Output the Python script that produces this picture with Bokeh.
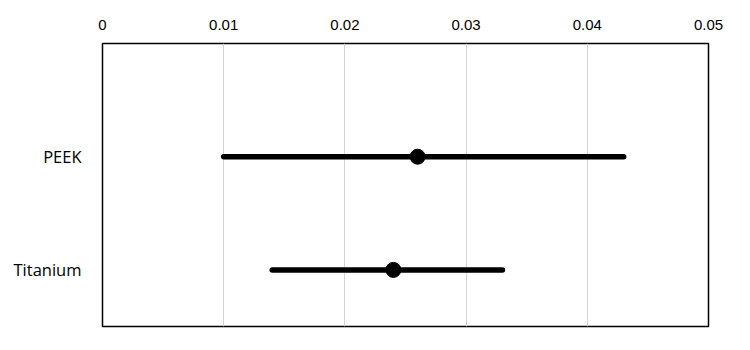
from bokeh.plotting import figure
from bokeh.models import Range1d, FixedTicker, NumeralTickFormatter, ColumnDataSource
from bokeh.embed import file_html
from bokeh.resources import INLINE

categories = ["PEEK", "Titanium"]
estimate = [0.026, 0.024]
lower = [0.010, 0.014]
upper = [0.043, 0.033]
x_ticks = [0, 0.01, 0.02, 0.03, 0.04, 0.05]

n = len(categories)
ypos = [1 + 2 * (n - 1 - i) for i in range(n)]

src = ColumnDataSource(dict(cat=categories, y=ypos, est=estimate, lo=lower, hi=upper))

p = figure(width=750, height=350, output_backend="svg", toolbar_location=None,
           x_range=Range1d(0, 0.05), y_range=Range1d(0, 2 * n + 1),
           x_axis_location="above",
           min_border_left=102, min_border_right=42, min_border_top=43, min_border_bottom=24)

p.outline_line_color = "black"
p.outline_line_width = 1.5
p.background_fill_color = "white"
p.border_fill_color = "white"

p.xgrid.ticker = FixedTicker(ticks=x_ticks)
p.xgrid.grid_line_color = "#d4d4d4"
p.xgrid.grid_line_width = 1
p.ygrid.grid_line_color = None

xa = p.xaxis[0]
xa.ticker = FixedTicker(ticks=x_ticks)
xa.formatter = NumeralTickFormatter(format="0.[00]")
xa.axis_line_color = None
xa.major_tick_line_color = None
xa.minor_tick_line_color = None
xa.major_label_text_font = "Liberation Sans"
xa.major_label_text_font_size = "15px"
xa.major_label_text_color = "black"
xa.major_label_standoff = 8

ya = p.yaxis[0]
ya.ticker = FixedTicker(ticks=ypos)
ya.major_label_overrides = {y: c for y, c in zip(ypos, categories)}
ya.axis_line_color = None
ya.major_tick_line_color = None
ya.minor_tick_line_color = None
ya.major_label_text_font = "Open Sans"
ya.major_label_text_font_size = "16.5px"
ya.major_label_text_color = "black"
ya.major_label_standoff = 15

p.segment(x0="lo", y0="y", x1="hi", y1="y", source=src, line_color="black",
          line_width=5.5, line_cap="round")
p.scatter(x="est", y="y", source=src, size=15, fill_color="black", line_color="black")

open("out.html", "w").write(file_html(p, INLINE))
